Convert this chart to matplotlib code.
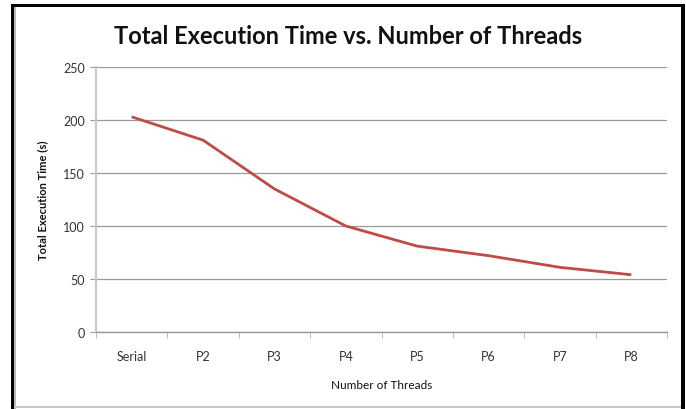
import matplotlib.pyplot as plt
from matplotlib.patches import Rectangle
from matplotlib.ticker import FixedLocator

# execution time per configuration
threads = ["Serial", "P2", "P3", "P4", "P5", "P6", "P7", "P8"]
exec_time = [203, 181, 135, 100, 81, 72, 61, 54]

plt.rcParams["font.family"] = ["Lato", "DejaVu Sans"]

fig = plt.figure(figsize=(6.86, 4.10), dpi=100)
fig.patch.set_facecolor("white")

# chart frame
W, H = 686, 410
def frame(x0, y0, x1, y1, color):
    fig.add_artist(Rectangle((x0 / W, 1 - y1 / H), (x1 - x0) / W, (y1 - y0) / H,
                             transform=fig.transFigure, facecolor=color,
                             edgecolor="none", zorder=0))
frame(11, 5, 685, 8, "black")
frame(11, 5, 14, 410, "black")
frame(681, 5, 685, 410, "black")
frame(14, 8, 16, 410, "#b8b8b8")
frame(14, 407, 681, 409, "#c8c8c8")

ax = fig.add_axes([96 / W, 1 - 333 / H, (667 - 96) / W, (333 - 68) / H])
x = range(len(threads))
ax.plot(x, exec_time, color="#be4b48", linewidth=2.0, solid_capstyle="butt", zorder=3)

ax.set_xlim(-0.5, len(threads) - 0.5)
ax.set_ylim(0, 250)
ax.set_yticks(range(0, 251, 50))
ax.set_xticks(list(x))
ax.set_xticklabels(threads)
ax.xaxis.set_minor_locator(FixedLocator([i + 0.5 for i in range(-1, len(threads))]))

ax.grid(axis="y", color="#9a9a9a", linewidth=0.9)
ax.set_axisbelow(True)
for s in ["top", "right"]:
    ax.spines[s].set_visible(False)
ax.spines["left"].set_color("#c8c8c8")
ax.spines["left"].set_linewidth(1.5)
ax.spines["bottom"].set_color("#9a9a9a")
ax.spines["bottom"].set_linewidth(1.0)

ax.tick_params(axis="x", which="major", length=0, pad=13, labelsize=9, labelcolor="#333333")
ax.tick_params(axis="x", which="minor", length=4, color="#b0b0b0", direction="out")
ax.tick_params(axis="y", length=4, color="#9a9a9a", labelsize=9, labelcolor="#333333", pad=4)

ax.set_xlabel("Number of Threads", fontsize=8.5, labelpad=12, color="#111111")
ax.set_ylabel("Total Execution Time (s)", fontsize=8, fontweight="bold", labelpad=11, color="#111111")

fig.text(348 / W, 1 - 37 / H, "Total Execution Time vs. Number of Threads",
         ha="center", va="center", fontsize=17, fontweight="bold", color="#111111")

fig.savefig("out.png", dpi=100)
